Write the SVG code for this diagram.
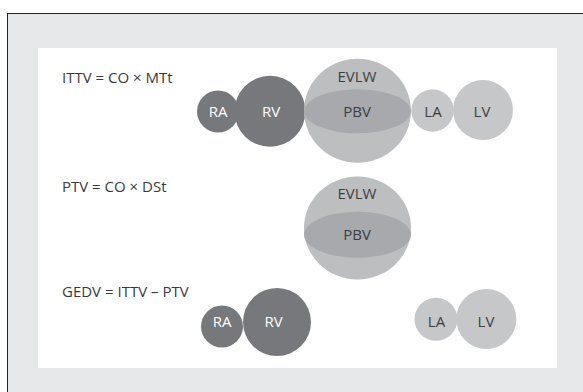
<svg xmlns="http://www.w3.org/2000/svg" width="583" height="392" viewBox="0 0 583 392">
<style>
.dark{fill:#77787b}
.big{fill:#bcbec0}
.ell{fill:#a7a9ac}
.light{fill:#c6c7c9}
text{font-family:"Open Sans","Liberation Sans",sans-serif}
.f{font-size:15px;fill:#3a3a3c}
.lw{font-size:15px;fill:#ffffff;text-anchor:middle}
.lb{font-size:15px;fill:#3d3d3f;text-anchor:middle}
</style>
<rect x="7.5" y="13.5" width="590" height="400" fill="#e6e7e8" stroke="#231f20" stroke-width="1"/>
<rect x="38" y="48" width="519" height="320" fill="#ffffff"/>

<g id="formula-ittv"><text class="f" x="62" y="83">ITTV = CO × MTt</text></g>
<g id="formula-ptv"><text class="f" x="62" y="192">PTV = CO × DSt</text></g>
<g id="formula-gedv"><text class="f" x="62" y="297">GEDV = ITTV – PTV</text></g>

<!-- Row 1: ITTV -->
<g id="rv1"><circle class="dark" cx="270" cy="111.3" r="35.5"/><text class="lw" x="271" y="117">RV</text></g>
<g id="ra1"><circle class="dark" cx="218" cy="111.5" r="21"/><text class="lw" x="218" y="117">RA</text></g>
<g id="lv1"><circle class="light" cx="483" cy="110" r="30"/><text class="lb" x="482" y="117">LV</text></g>
<g id="la1"><circle class="light" cx="432.5" cy="110.5" r="21.2"/><text class="lb" x="433" y="117">LA</text></g>
<g id="evlw1"><ellipse class="big" cx="357.5" cy="110.8" rx="53.5" ry="52"/><text class="lb" x="357" y="82">EVLW</text></g>
<g id="pbv1"><ellipse class="ell" cx="357.5" cy="111.3" rx="53.5" ry="22"/><text class="lb" x="357" y="116.5">PBV</text></g>

<!-- Row 2: PTV -->
<g id="evlw2"><ellipse class="big" cx="357.5" cy="228" rx="53.5" ry="51.5"/><text class="lb" x="357" y="198.5">EVLW</text></g>
<g id="pbv2"><ellipse class="ell" cx="357.5" cy="234.7" rx="53.5" ry="23"/><text class="lb" x="357" y="240.3">PBV</text></g>

<!-- Row 3: GEDV -->
<g id="rv3"><circle class="dark" cx="277" cy="322" r="34"/><text class="lw" x="273.5" y="327">RV</text></g>
<g id="ra3"><circle class="dark" cx="222" cy="326.5" r="21"/><text class="lw" x="222" y="327">RA</text></g>
<g id="lv3"><circle class="light" cx="486.3" cy="319" r="30"/><text class="lb" x="486" y="327">LV</text></g>
<g id="la3"><circle class="light" cx="436" cy="319.3" r="21.5"/><text class="lb" x="436.5" y="327">LA</text></g>
</svg>
